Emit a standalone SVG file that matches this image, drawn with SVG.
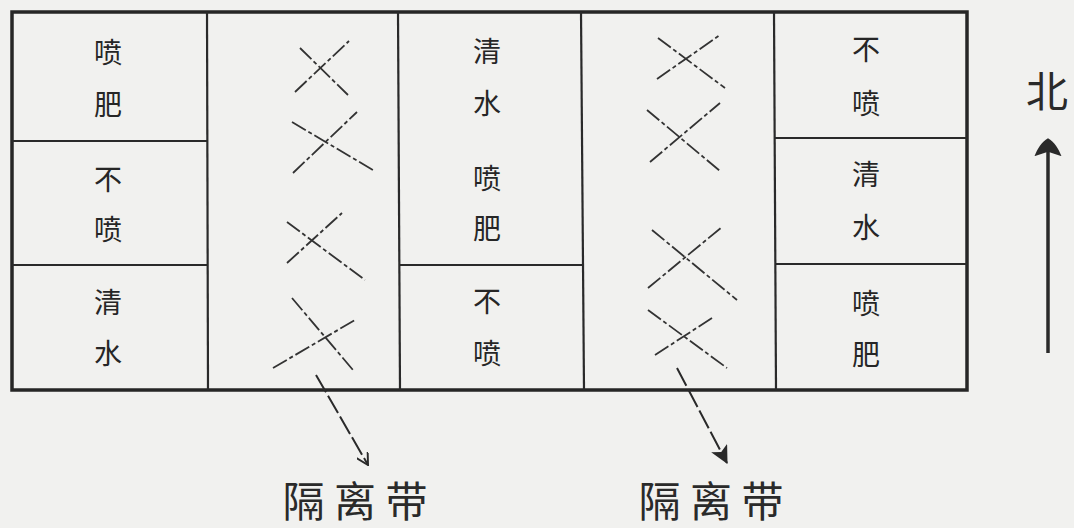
<svg xmlns="http://www.w3.org/2000/svg" width="1074" height="528" viewBox="0 0 1074 528">
<style>
.bg{fill:#f1f1ef}
.frame{fill:none;stroke:#262626;stroke-width:3.5}
.div{stroke:#2a2a2a;stroke-width:2.2;fill:none}
.t{font-family:"Noto Sans CJK SC","Noto Sans CJK JP",sans-serif;font-size:28px;fill:#262626;text-anchor:middle;dominant-baseline:central}
.big{font-family:"Noto Sans CJK SC","Noto Sans CJK JP",sans-serif;font-size:42px;fill:#2a2a2a;text-anchor:middle;dominant-baseline:central}
.x{stroke:#333;stroke-width:1.8;fill:none;stroke-dasharray:16 3 4 3}
.conn{stroke:#2a2a2a;stroke-width:2;fill:none;stroke-dasharray:20 4}
</style>
<defs>
<marker id="open" viewBox="0 0 12 12" refX="11" refY="6" markerWidth="13" markerHeight="13" markerUnits="userSpaceOnUse" orient="auto">
<path d="M0,0 L11,6 L0,12" fill="none" stroke="#2a2a2a" stroke-width="1.8"/>
</marker>
<marker id="filled" viewBox="0 0 16 16" refX="15" refY="8" markerWidth="18" markerHeight="18" markerUnits="userSpaceOnUse" orient="auto">
<path d="M0,0 L16,8 L0,16 L4,8 Z" fill="#2a2a2a"/>
</marker>
<marker id="north" viewBox="0 0 20 30" refX="18" refY="15" markerWidth="18" markerHeight="30" markerUnits="userSpaceOnUse" orient="auto">
<path d="M0,0 C8,3 16,8 20,15 C16,22 8,27 0,30 L5,15 Z" fill="#2a2a2a"/>
</marker>
</defs>
<rect class="bg" x="0" y="0" width="1074" height="528"/>

<g id="frame">
<rect class="frame" x="12" y="12" width="955" height="378"/>
<line class="div" x1="207" y1="12" x2="208" y2="390"/>
<line class="div" x1="398" y1="12" x2="400" y2="390"/>
<line class="div" x1="581" y1="12" x2="584" y2="390"/>
<line class="div" x1="774" y1="12" x2="776" y2="390"/>
<line class="div" x1="12" y1="141" x2="207" y2="141"/>
<line class="div" x1="12" y1="265" x2="208" y2="265"/>
<line class="div" x1="399" y1="265" x2="583" y2="265"/>
<line class="div" x1="775" y1="138" x2="967" y2="138"/>
<line class="div" x1="775" y1="264" x2="967" y2="264"/>
</g>

<g id="plot-w1"><text class="t" x="108" y="51">喷</text><text class="t" x="108" y="103">肥</text></g>
<g id="plot-w2"><text class="t" x="108" y="178">不</text><text class="t" x="108" y="228">喷</text></g>
<g id="plot-w3"><text class="t" x="108" y="301">清</text><text class="t" x="108" y="352">水</text></g>

<g id="plot-m1"><text class="t" x="487" y="50">清</text><text class="t" x="487" y="102">水</text><text class="t" x="487" y="177">喷</text><text class="t" x="487" y="227">肥</text></g>
<g id="plot-m2"><text class="t" x="487" y="300">不</text><text class="t" x="487" y="352">喷</text></g>

<g id="plot-e1"><text class="t" x="866" y="48">不</text><text class="t" x="866" y="102">喷</text></g>
<g id="plot-e2"><text class="t" x="866" y="173">清</text><text class="t" x="866" y="226">水</text></g>
<g id="plot-e3"><text class="t" x="866" y="302">喷</text><text class="t" x="866" y="353">肥</text></g>

<g id="buffer-1">
<line class="x" x1="300" y1="48" x2="348" y2="95"/><line class="x" x1="295" y1="92" x2="349" y2="41"/>
<line class="x" x1="292" y1="122" x2="373" y2="170"/><line class="x" x1="293" y1="173" x2="357" y2="112"/>
<line class="x" x1="287" y1="222" x2="365" y2="280"/><line class="x" x1="287" y1="263" x2="342" y2="213"/>
<line class="x" x1="292" y1="298" x2="353" y2="370"/><line class="x" x1="273" y1="368" x2="355" y2="320"/>
</g>
<g id="buffer-2">
<line class="x" x1="658" y1="38" x2="725" y2="88"/><line class="x" x1="657" y1="79" x2="720" y2="35"/>
<line class="x" x1="647" y1="110" x2="720" y2="171"/><line class="x" x1="650" y1="162" x2="720" y2="103"/>
<line class="x" x1="652" y1="230" x2="737" y2="300"/><line class="x" x1="648" y1="288" x2="722" y2="227"/>
<line class="x" x1="648" y1="310" x2="727" y2="368"/><line class="x" x1="655" y1="355" x2="712" y2="318"/>
</g>

<g id="label-1"><text class="big" x="355" y="498" textLength="145" lengthAdjust="spacing">隔离带</text></g>
<g id="label-2"><text class="big" x="711" y="498" textLength="145" lengthAdjust="spacing">隔离带</text></g>

<g id="north">
<text class="big" x="1047" y="88">北</text>
<line x1="1048" y1="353" x2="1048" y2="140" stroke="#2a2a2a" stroke-width="3.5" marker-end="url(#north)"/>
</g>

<g id="connectors">
<line class="conn" x1="316" y1="375" x2="368" y2="465" marker-end="url(#open)"/>
<line class="conn" x1="677" y1="368" x2="727" y2="463" marker-end="url(#filled)"/>
</g>
</svg>
